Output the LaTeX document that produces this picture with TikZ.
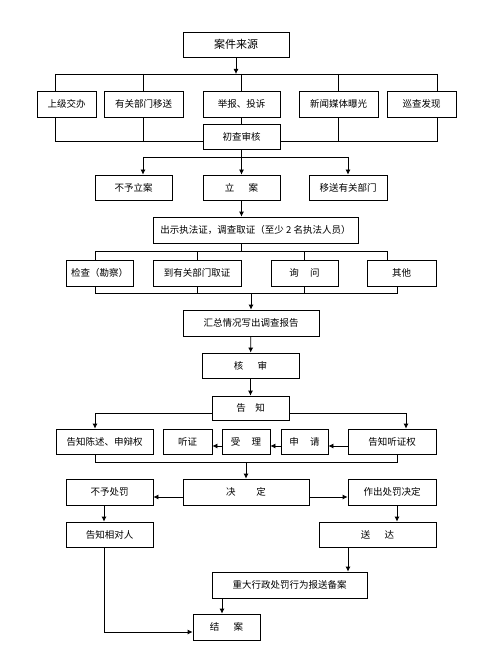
\documentclass[tikz,border=0pt]{standalone}
\usepackage{fontspec}
\setmainfont{Noto Sans CJK SC}
\usetikzlibrary{arrows.meta}

\begin{document}
\begin{tikzpicture}[x=1pt, y=-1pt, line width=0.8pt, >={Latex[length=5pt,width=5pt]},
    box/.style={draw, rectangle, inner sep=0pt, font=\fontsize{9.5}{11}\selectfont}]
        \useasboundingbox (0,0) rectangle (494,668);

        % 案件来源
        \node[box, minimum width=106, minimum height=25, font=\fontsize{11}{13}\selectfont] (ajly) at (236,44.5) {案件来源};
        \node[box, minimum width=59, minimum height=26] (sjjb) at (66.5,104) {上级交办};
        \node[box, minimum width=79, minimum height=26] (ygys) at (143.5,104) {有关部门移送};
        \node[box, minimum width=77, minimum height=26] (jbts) at (241.5,104) {举报、投诉};
        \node[box, minimum width=79, minimum height=26] (xwmt) at (338.5,104) {新闻媒体曝光};
        \node[box, minimum width=69, minimum height=26] (xcfx) at (421.5,104) {巡查发现};
        \node[box, minimum width=77, minimum height=25] (ccsh) at (241.5,136.5) {初查审核};

        \coordinate (b1l) at (55,74);
        \coordinate (b1r) at (437,74);
        \coordinate (b2l) at (55,141);
        \coordinate (b2r) at (437,141);
        \draw[->] (ajly) -- (ajly |- b1l);
        \draw (b1l) -- (b1r);
        \draw (b1l) -- (b1l |- sjjb.north);
        \draw (ygys.north |- b1l) -- (ygys.north);
        \draw (jbts.north |- b1l) -- (jbts.north);
        \draw (xwmt.north |- b1l) -- (xwmt.north);
        \draw (b1r) -- (b1r |- xcfx.north);
        \draw (b2l |- sjjb.south) -- (b2l) -- (ccsh.west |- b2l);
        \draw (ygys.south) -- (ygys.south |- b2l);
        \draw (jbts) -- (ccsh);
        \draw (xwmt.south) -- (xwmt.south |- b2r);
        \draw (b2r |- xcfx.south) -- (b2r) -- (ccsh.east |- b2r);

        % 立案
        \node[box, minimum width=77, minimum height=25] (byla) at (133.5,187.5) {不予立案};
        \node[box, minimum width=77, minimum height=25] (lian) at (241.5,187.5) {立\hspace{1.5em}案};
        \node[box, minimum width=78, minimum height=25] (ysbm) at (348,187.5) {移送有关部门};
        \node[box, minimum width=205, minimum height=26] (dcqz) at (255.5,230) {出示执法证，调查取证（至少 2 名执法人员）};

        \coordinate (b3l) at (143,157);
        \coordinate (b3r) at (348,157);
        \draw (ccsh) -- (ccsh |- b3l);
        \draw (b3l) -- (b3r);
        \draw[->] (b3l) -- (b3l |- byla.north);
        \draw[->] (ccsh.south |- b3l) -- (lian);
        \draw[->] (b3r) -- (ysbm);
        \draw[->] (lian) -- (lian |- dcqz.north);

        % 调查取证
        \node[box, minimum width=67, minimum height=26] (jckc) at (99.5,273) {检查（勘察）};
        \node[box, minimum width=88, minimum height=26] (dybm) at (197,273) {到有关部门取证};
        \node[box, minimum width=67, minimum height=26] (xunw) at (304.5,273) {询\hspace{1.2em}问};
        \node[box, minimum width=69, minimum height=26] (qita) at (401.5,273) {其他};
        \node[box, minimum width=136, minimum height=26] (hzbg) at (251,323) {汇总情况写出调查报告};

        \coordinate (b4l) at (95,251);
        \coordinate (b4r) at (387,251);
        \coordinate (b5l) at (95,293);
        \coordinate (b5r) at (397,293);
        \draw (dcqz.south -| lian) -- (lian |- b4l);
        \draw (b4l) -- (b4r);
        \draw (b4l) -- (b4l |- jckc.north);
        \draw (dybm.north |- b4l) -- (dybm.north);
        \draw (xunw.north |- b4l) -- (xunw.north);
        \draw (b4r) -- (b4r |- qita.north);
        \draw (b5l |- jckc.south) -- (b5l) -- (b5r) -- (b5r |- qita.south);
        \draw (dybm.south) -- (dybm.south |- b5l);
        \draw (xunw.south) -- (xunw.south |- b5l);
        \draw[->] (hzbg |- b5l) -- (hzbg);

        % 核审、告知
        \node[box, minimum width=97, minimum height=25] (hesh) at (250.5,365.5) {核\hspace{1.5em}审};
        \node[box, minimum width=77, minimum height=24] (gaoz) at (250.5,408) {告\hspace{1em}知};
        \node[box, minimum width=97, minimum height=25] (gzcs) at (104.5,441.5) {告知陈述、申辩权};
        \node[box, minimum width=49, minimum height=25] (tzhe) at (187.5,441.5) {听证};
        \node[box, minimum width=48, minimum height=25] (shli) at (246,441.5) {受\hspace{1.2em}理};
        \node[box, minimum width=47, minimum height=25] (sqin) at (304.5,441.5) {申\hspace{1.2em}请};
        \node[box, minimum width=88, minimum height=25] (gztz) at (392,441.5) {告知听证权};

        \draw[->] (hzbg) -- (hesh);
        \draw[->] (hesh) -- (gaoz);
        \coordinate (gzl) at (95,413);
        \coordinate (gzr) at (406,413);
        \coordinate (r6) at (0,446);
        \draw[->] (gaoz.west |- gzl) -- (gzl) -- (gzl |- gzcs.north);
        \draw[->] (gaoz.east |- gzr) -- (gzr) -- (gzr |- gztz.north);
        \draw[->] (gztz.west |- r6) -- (sqin.east |- r6);
        \draw[->] (sqin.west |- r6) -- (shli.east |- r6);
        \draw[->] (shli.west |- r6) -- (tzhe.east |- r6);

        % 决定
        \node[box, minimum width=87, minimum height=26] (bycf) at (109.5,492) {不予处罚};
        \node[box, minimum width=126, minimum height=26] (jued) at (246,492) {决\hspace{2.2em}定};
        \node[box, minimum width=88, minimum height=26] (zccf) at (392,492) {作出处罚决定};

        \coordinate (b7l) at (95,462);
        \coordinate (b7r) at (397,462);
        \coordinate (r7) at (0,497);
        \draw (b7l |- gzcs.south) -- (b7l) -- (b7r) -- (b7r |- gztz.south);
        \draw[->] (jued |- b7l) -- (jued);
        \draw[->] (jued.west |- r7) -- (bycf.east |- r7);
        \draw[->] (jued.east |- r7) -- (zccf.west |- r7);

        % 送达、结案
        \node[box, minimum width=87, minimum height=25] (gzxd) at (109.5,534.5) {告知相对人};
        \node[box, minimum width=117, minimum height=25] (sond) at (377.5,534.5) {送\hspace{1.5em}达};
        \node[box, minimum width=155, minimum height=26] (zdba) at (289.5,585) {重大行政处罚行为报送备案};
        \node[box, minimum width=67, minimum height=26] (jiea) at (226.5,627) {结\hspace{1.5em}案};

        \coordinate (sdx) at (348,0);
        \coordinate (jax) at (222,0);
        \coordinate (jxl) at (104,632);
        \draw[->] (bycf.south -| jxl) -- (gzxd.north -| jxl);
        \draw[->] (zccf.south -| b7r) -- (sond.north -| b7r);
        \draw[->] (sond.south -| sdx) -- (zdba.north -| sdx);
        \draw[->] (zdba.south -| jax) -- (jiea.north -| jax);
        \draw[->] (gzxd.south -| jxl) -- (jxl) -- (jiea.west |- jxl);
\end{tikzpicture}
\end{document}
